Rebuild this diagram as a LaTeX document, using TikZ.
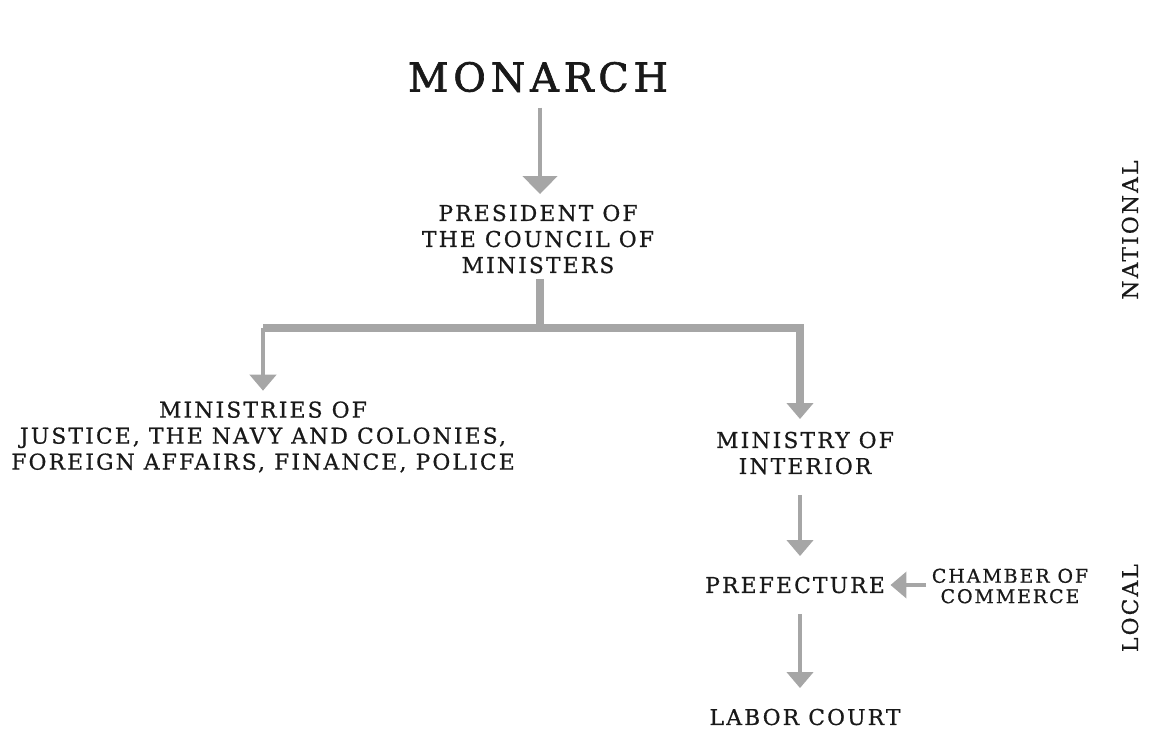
\documentclass[tikz,border=0pt]{standalone}
\usepackage{fontspec}
\setmainfont{DejaVu Serif}[LetterSpace=10, FakeBold=0.7]
\newfontfamily\titlefont{DejaVu Serif}[LetterSpace=12, FakeBold=1.6]
\usetikzlibrary{arrows.meta}
\definecolor{linkgray}{HTML}{A6A6A6}
\tikzstyle{orgtext} = [align=center, inner sep=0pt, text=black!90,
    font=\fontsize{6.2}{7.4}\selectfont]
\tikzstyle{smalltext} = [orgtext, font=\fontsize{5.4}{5.8}\selectfont]
\tikzstyle{titletext} = [inner sep=0pt, text=black!90, font=\titlefont\fontsize{11.3}{13}\selectfont]
\tikzstyle{link} = [draw=linkgray, line width=1.4pt,
    -{Triangle[width=2.6mm, length=1.6mm]}]
\tikzstyle{biglink} = [link, -{Triangle[width=3.4mm, length=1.8mm]}]
\tikzstyle{trunk} = [draw=linkgray, line width=2.3pt]

\begin{document}
\begin{tikzpicture}
\useasboundingbox (0,0) rectangle (11.53,-7.47);
% national level
\node[titletext] (monarch) at (5.38,-0.77) {MONARCH};
\node[orgtext] (president) at (5.38,-2.39) {PRESIDENT OF\\THE COUNCIL OF\\MINISTERS};
\node[orgtext] (ministries) at (2.63,-4.37)
    {MINISTRIES OF\\JUSTICE, THE NAVY AND COLONIES,\\FOREIGN AFFAIRS, FINANCE, POLICE};
\node[orgtext] (interior) at (8.05,-4.53) {MINISTRY OF\\INTERIOR};
% local level
\node[orgtext] (prefecture) at (7.95,-5.85) {PREFECTURE};
\node[smalltext] (chamber) at (10.10,-5.86) {CHAMBER OF\\COMMERCE};
\node[orgtext] (labor) at (8.05,-7.17) {LABOR COURT};
% side labels
\node[orgtext, rotate=90] (national) at (11.30,-2.30) {NATIONAL};
\node[orgtext, rotate=90] (local) at (11.30,-6.08) {LOCAL};

\coordinate (branch) at (5.40,-3.28);
\coordinate (intop) at ([xshift=-0.5mm]interior.north);
\draw[biglink, shorten <=1.5mm, shorten >=1mm] (monarch.south -| branch) -- (president.north -| branch);
\draw[trunk, shorten <=0.5mm] (president.south -| branch) -- (branch);
\draw[trunk, -{Triangle[width=2.6mm, length=1.6mm]}, shorten >=1.2mm] (branch) -| (intop);
\draw[trunk] (branch) -- (branch -| ministries.north);
\draw[link, shorten >=1mm] (branch -| ministries.north) -- (ministries.north);
\draw[link, shorten <=2mm, shorten >=2mm] (interior.south -| intop) -- (prefecture.north -| intop);
\draw[link, shorten <=2mm, shorten >=2mm] (prefecture.south -| intop) -- (labor.north -| intop);
\draw[link, shorten <=0.5mm, shorten >=0.5mm] (chamber.west |- prefecture) -- (prefecture.east);
\end{tikzpicture}
\end{document}
